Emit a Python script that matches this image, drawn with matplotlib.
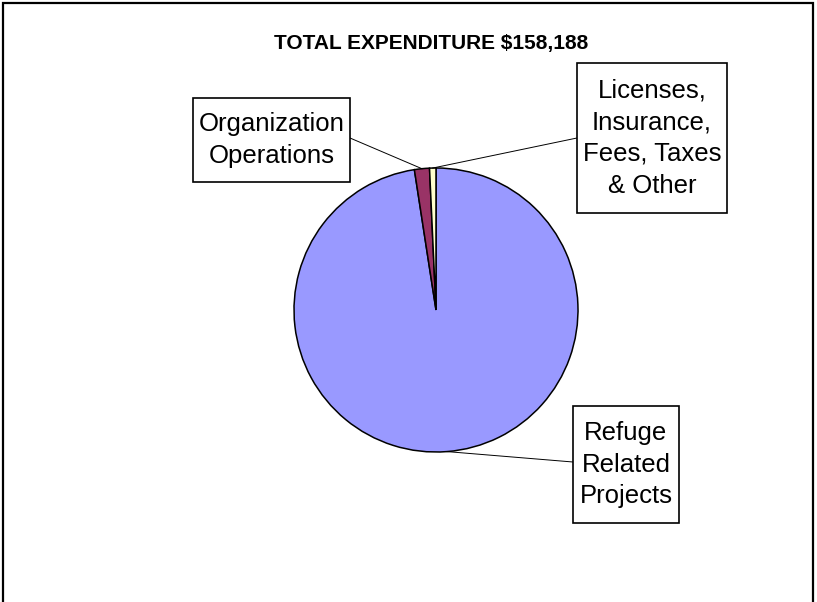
import numpy as np
import matplotlib
matplotlib.use('Agg')
import matplotlib.pyplot as plt
from matplotlib.patches import Rectangle

# data:
labels = ['Refuge\nRelated\nProjects', 'Organization\nOperations',
          'Licenses,\nInsurance,\nFees, Taxes\n& Other']
values = [154338, 2700, 1150]          # total = 158,188
colors = ['#9999FF', '#993366', '#FFFFCC']
title = 'TOTAL EXPENDITURE $158,188'

# layout in pixels (y measured from top of the image):
W, H = 817, 602
cx, cy, r = 436, 310, 142
# label boxes: (left, top, right, bottom)
boxes = [(573, 406, 679, 523), (193, 98, 350, 182), (577, 63, 727, 213)]
# point on the box edge where the leader starts:
anchors = [(573, 462), (350, 138), (577, 138)]

plt.rcParams['font.family'] = ['Liberation Sans', 'DejaVu Sans']
fig = plt.figure(figsize=(W / 100, H / 100), dpi=100)
ax = fig.add_axes([0, 0, 1, 1])

wedges, _ = ax.pie(values, colors=colors, startangle=90, counterclock=False,
                   center=(cx, H - cy), radius=r,
                   wedgeprops=dict(edgecolor='black', linewidth=1.1))
# pie() resets the limits, so set the pixel frame afterwards:
ax.set_xlim(0, W)
ax.set_ylim(0, H)
ax.set_aspect('equal')
ax.axis('off')

# outer chart frame (bottom edge is cut off in the picture):
ax.add_patch(Rectangle((3, -20), W - 7, H - 3 + 20, fill=False,
                       edgecolor='black', linewidth=1.6))

for w, lab, (x0, y0, x1, y1), (ax_x, ax_y) in zip(wedges, labels, boxes, anchors):
    ax.add_patch(Rectangle((x0, H - y1), x1 - x0, y1 - y0, facecolor='white',
                           edgecolor='black', linewidth=1.2, zorder=3))
    ax.text((x0 + x1) / 2, H - (y0 + y1) / 2, lab, ha='center', va='center',
            fontsize=18.5, linespacing=1.42, zorder=4)
    # leader line to the middle of the wedge's arc:
    mid = np.deg2rad((w.theta1 + w.theta2) / 2)
    px, py = cx + r * np.cos(mid), (H - cy) + r * np.sin(mid)
    ax.plot([ax_x, px], [H - ax_y, py], color='black', linewidth=0.7, zorder=2)

ax.text(431, H - 44, title, ha='center', va='center', fontsize=15,
        fontweight='bold')

fig.savefig('out.png', dpi=100)
